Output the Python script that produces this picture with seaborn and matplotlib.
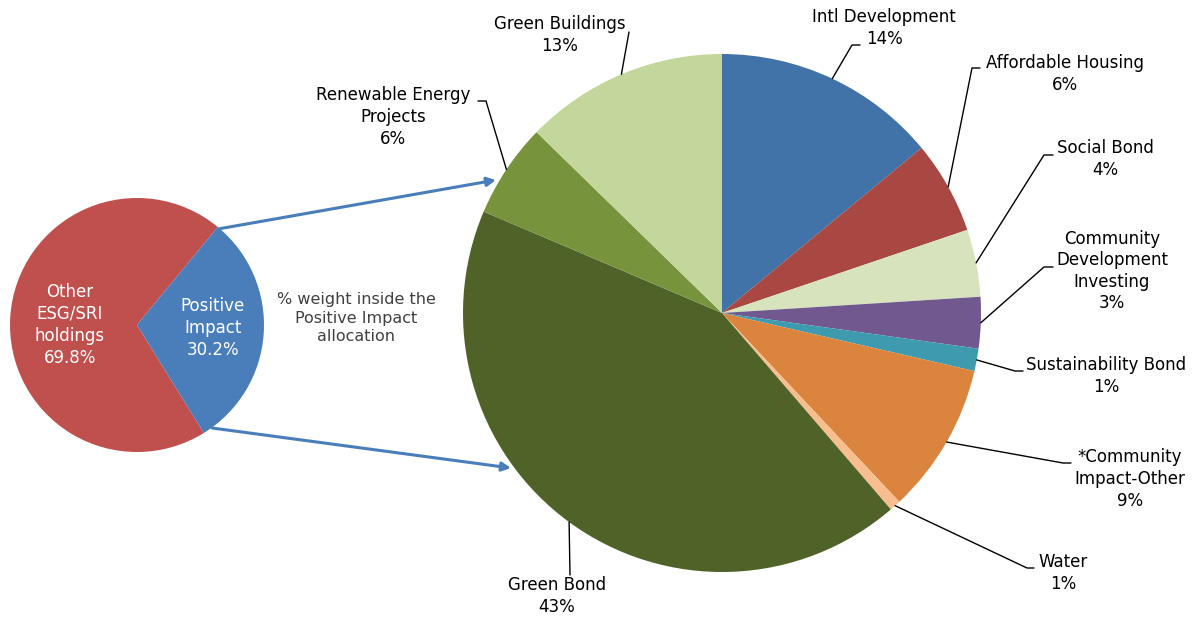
import numpy as np
import matplotlib.pyplot as plt
import seaborn as sns

sns.set_theme(style="white")
plt.rcParams['font.family'] = ['DejaVu Sans']

# left pie: share of the positive impact allocation
outer_labels = ["Other\nESG/SRI\nholdings", "Positive\nImpact"]
outer_values = [69.8, 30.2]
outer_colors = ["#C0504D", "#4A7EBB"]

# right pie: % weight inside the positive impact allocation
impact_labels = ["Intl Development", "Affordable Housing", "Social Bond",
                 "Community\nDevelopment\nInvesting", "Sustainability Bond",
                 "*Community\nImpact-Other", "Water", "Green Bond",
                 "Renewable Energy\nProjects", "Green Buildings"]
impact_values = [14.0, 5.8, 4.2, 3.2, 1.4, 9.4, 0.7, 42.7, 5.9, 12.7]
impact_colors = sns.color_palette(["#4172A8", "#A94742", "#D6E3BC", "#71588F", "#3D9AAF",
                                   "#DB843D", "#F9BE8E", "#4F6228", "#77933C", "#C3D69B"])

W, H = 1201, 618
fig = plt.figure(figsize=(W / 100, H / 100), dpi=100)
ax = fig.add_axes([0, 0, 1, 1])


def px(x, y):
    # pixel position (y from top) -> data coords
    return (x, H - y)


small_c, small_r = px(137, 325), 127
big_c, big_r = px(722, 313), 259

small_wedges, _ = ax.pie(outer_values, colors=outer_colors, center=small_c, radius=small_r,
                         startangle=50.5, counterclock=True, wedgeprops=dict(linewidth=0))
big_wedges, _ = ax.pie(impact_values, colors=impact_colors, center=big_c, radius=big_r,
                       startangle=90, counterclock=False, wedgeprops=dict(linewidth=0))

# text inside the small pie
ax.text(*px(70, 325), f"{outer_labels[0]}\n{outer_values[0]:.1f}%", color="white",
        ha="center", va="center", fontsize=12, linespacing=1.3)
ax.text(*px(213, 328), f"{outer_labels[1]}\n{outer_values[1]:.1f}%", color="white",
        ha="center", va="center", fontsize=12, linespacing=1.3)
ax.text(*px(356, 318), "% weight inside the\nPositive Impact\nallocation", color="#404040",
        ha="center", va="center", fontsize=11.5, linespacing=1.3)

# arrows from small pie to big pie
ax.annotate("", xy=px(496, 180), xytext=px(218, 229),
            arrowprops=dict(arrowstyle="-|>", color="#4A7EBB", lw=2.2, mutation_scale=13,
                            shrinkA=0, shrinkB=0))
ax.annotate("", xy=px(511, 468), xytext=px(212, 428),
            arrowprops=dict(arrowstyle="-|>", color="#4A7EBB", lw=2.2, mutation_scale=13,
                            shrinkA=0, shrinkB=0))

# label layout: text centre, elbow, line end (pixels)
label_pos = [(884, 28), (1065, 74), (1105, 159), (1112, 271), (1106, 376),
             (1130, 479), (1063, 573), (557, 596), (393, 117), (560, 35)]
elbows = [(852, 45), (972, 68), (1044, 155), (1044, 267), (1015, 371),
          (1063, 463), (1027, 568), (570, 575), (486, 101), (629, 32)]
line_ends = [(860, 45), (980, 68), (1053, 155), (1053, 267), (1023, 371),
             (1071, 463), (1034, 568), (570, 575), (478, 101), (629, 32)]

for w, name, v, tp, el, le in zip(big_wedges, impact_labels, impact_values,
                                  label_pos, elbows, line_ends):
    mid = np.deg2rad((w.theta1 + w.theta2) / 2)
    x0 = big_c[0] + big_r * np.cos(mid)
    y0 = big_c[1] + big_r * np.sin(mid)
    ex, ey = px(*el)
    lx, ly = px(*le)
    ax.plot([x0, ex, lx], [y0, ey, ly], color="black", lw=1)
    ax.text(*px(*tp), f"{name}\n{round(v)}%", color="black", ha="center", va="center",
            fontsize=12, linespacing=1.25)

ax.set_xlim(0, W)
ax.set_ylim(0, H)
ax.set_aspect("auto")
ax.axis("off")

fig.savefig("out.png", dpi=100)
